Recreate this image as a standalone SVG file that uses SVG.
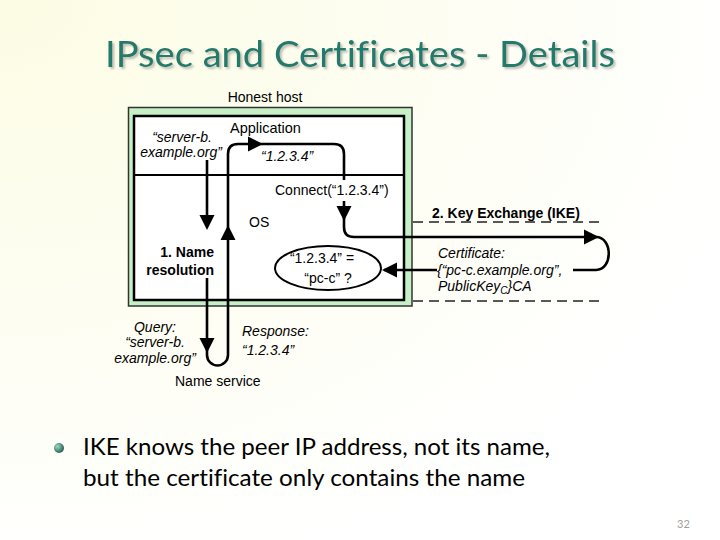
<svg xmlns="http://www.w3.org/2000/svg" width="720" height="540" viewBox="0 0 720 540">
<defs>
<radialGradient id="bg" cx="0" cy="0" r="1.1">
<stop offset="0" stop-color="#FCFCE4"/>
<stop offset="1" stop-color="#FFFFFF"/>
</radialGradient>
<radialGradient id="bul" cx="0.35" cy="0.35" r="0.7">
<stop offset="0" stop-color="#9FD9C4"/>
<stop offset="1" stop-color="#1E5E4E"/>
</radialGradient>
<filter id="sh" x="-5%" y="-20%" width="110%" height="150%">
<feDropShadow dx="2" dy="2" stdDeviation="0.8" flood-color="#A0A098" flood-opacity="0.7"/>
</filter>
<path id="ah" d="M0 0 L-15 -7.5 L-15 7.5 Z" fill="#000"/>
</defs>
<style>
.t{font-family:"Liberation Sans",Arial,sans-serif;font-size:14px;fill:#000}
.i{font-style:italic}
.b{font-weight:bold}
.m{text-anchor:middle}
.e{text-anchor:end}
.ln{fill:none;stroke:#000;stroke-width:2.6}
.dash{fill:none;stroke:#222;stroke-width:1.6;stroke-dasharray:10 6}
.title{font-family:Lato,"Open Sans",sans-serif;font-size:36px;fill:#217A6B;font-variant-ligatures:none}
.body{font-family:Lato,"Open Sans",sans-serif;font-size:23px;fill:#000;font-variant-ligatures:none}
</style>
<rect width="720" height="540" fill="url(#bg)"/>
<g id="title">
<text class="title" x="105" y="67" textLength="510" lengthAdjust="spacingAndGlyphs" filter="url(#sh)">IPsec and Certificates - Details</text>
</g>
<g id="honest-host">
<rect x="128.5" y="107.5" width="283.5" height="198.5" fill="#C6F0C6" stroke="#333" stroke-width="1.5"/>
<rect x="134" y="116" width="270" height="184" fill="#FFFFFF" stroke="#000" stroke-width="2.5"/>
<line x1="134" y1="175" x2="404" y2="175" stroke="#000" stroke-width="1.8"/>
<text class="t m" x="265" y="102">Honest host</text>
</g>
<g id="application">
<text class="t" x="230" y="133" style="font-size:14.5px">Application</text>
<text class="t i m" x="182" y="142">“server-b.</text>
<text class="t i m" x="181" y="157">example.org”</text>
</g>
<g id="os">
<text class="t" x="249" y="227">OS</text>
<text class="t" x="275" y="195">Connect(“1.2.3.4”)</text>
<text class="t b e" x="214" y="257">1. Name</text>
<text class="t b e" x="214" y="275">resolution</text>
</g>
<g id="check">
<ellipse cx="328" cy="268" rx="53" ry="22" fill="#FFFFFF" stroke="#000" stroke-width="2"/>
<text class="t m" x="322" y="263">“1.2.3.4” =</text>
<text class="t m" x="328" y="283">“pc-c” ?</text>
</g>
<g id="ike">
<line class="dash" x1="413" y1="222" x2="603" y2="222"/>
<line class="dash" x1="413" y1="301" x2="603" y2="301"/>
<text class="t b" x="432" y="218">2. Key Exchange (IKE)</text>
<text class="t i" x="438" y="258">Certificate:</text>
<text class="t i" x="437" y="275">{“pc-c.example.org”,</text>
<text class="t i" x="438" y="291">PublicKey<tspan dy="3" style="font-size:10px">C</tspan><tspan dy="-3">}CA</tspan></text>
</g>
<g id="name-service">
<text class="t" x="175" y="386">Name service</text>
<text class="t i m" x="155" y="332">Query:</text>
<text class="t i m" x="155" y="347">“server-b.</text>
<text class="t i m" x="155" y="363">example.org”</text>
<text class="t i" x="242" y="336">Response:</text>
<text class="t i" x="242" y="355">“1.2.3.4”</text>
</g>
<g id="connectors">
<path class="ln" d="M207 278 V355 A10.5 10.5 0 0 0 228 355 V154 Q228 144 238 144 H334 Q344 144 344 154 V180"/>
<path class="ln" d="M344 201 V227 Q344 237 354 237 H596 C613 237 613 270 596 270 H573"/>
<path class="ln" d="M437 270 H384"/>
<path class="ln" d="M207 160 V226"/>
<text class="t i" x="261" y="161">“1.2.3.4”</text>
<use href="#ah" transform="translate(263,144)"/>
<use href="#ah" transform="translate(344,221) rotate(90)"/>
<use href="#ah" transform="translate(228,225) rotate(-90)"/>
<use href="#ah" transform="translate(207,230) rotate(90)"/>
<use href="#ah" transform="translate(599,237)"/>
<use href="#ah" transform="translate(382,270) rotate(180)"/>
<use href="#ah" transform="translate(207,353) rotate(90)"/>
</g>
<g id="bullet">
<circle cx="59" cy="448" r="5" fill="url(#bul)"/>
<text class="body" x="83" y="455" textLength="467" lengthAdjust="spacingAndGlyphs">IKE knows the peer IP address, not its name,</text>
<text class="body" x="83" y="486" textLength="442" lengthAdjust="spacingAndGlyphs">but the certificate only contains the name</text>
</g>
<text x="677" y="528" style="font-family:Lato,sans-serif;font-size:11px;fill:#A0A0A0">32</text>
</svg>
